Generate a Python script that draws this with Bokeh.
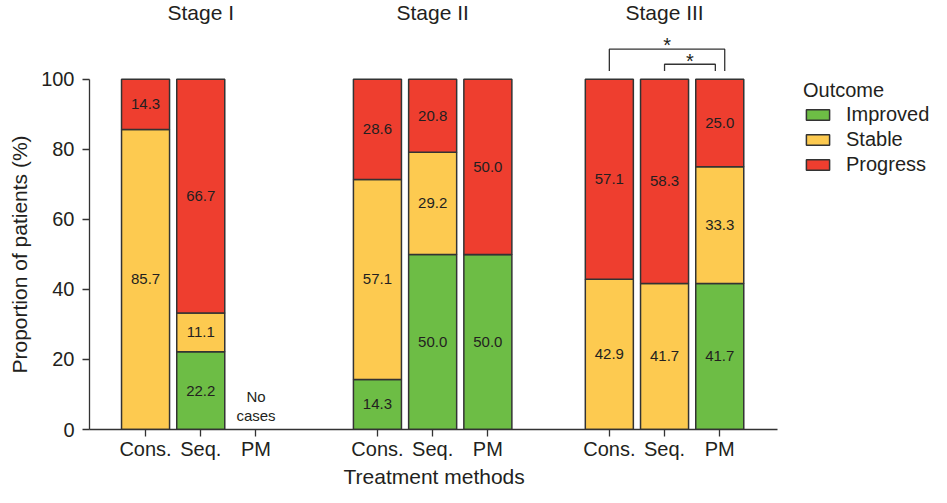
import math
from bokeh.plotting import figure
from bokeh.models import ColumnDataSource, FixedTicker, Legend, LegendItem, Range1d, Title
from bokeh.core.properties import value
from bokeh.embed import file_html
from bokeh.resources import INLINE

# ---------------- data ----------------
stages = ["Stage I", "Stage II", "Stage III"]
methods = ["Cons.", "Seq.", "PM"]
outcomes = ["Improved", "Stable", "Progress"]
nan = float("nan")
# order: Stage I (Cons., Seq., PM), Stage II (...), Stage III (...)
improved = [0.0, 22.2, nan, 14.3, 50.0, 50.0, 0.0, 0.0, 41.7]
stable = [85.7, 11.1, nan, 57.1, 29.2, 0.0, 42.9, 41.7, 33.3]
progress = [14.3, 66.7, nan, 28.6, 20.8, 50.0, 57.1, 58.3, 25.0]
no_cases_label = ["No", "cases"]
# significance brackets in Stage III: (from method, to method, mark)
sig_pairs = [("Cons.", "PM", "*"), ("Seq.", "PM", "*")]
y_ticks = [0, 20, 40, 60, 80, 100]
x_title = "Treatment methods"
y_title = "Proportion of patients (%)"
colors = ["#6dbd45", "#fdca50", "#ee3e2f"]

FONT = "Liberation Sans"
TXT = "#231f20"

# ---------------- layout constants ----------------
first = 1.015
stage_gap = 4.2
bar_w = 0.87

xs, method_idx = [], []
for s in range(len(stages)):
    for m in range(len(methods)):
        xs.append(first + stage_gap * s + m)
        method_idx.append(m)

src = ColumnDataSource(dict(x=xs, Improved=improved, Stable=stable, Progress=progress))

p = figure(width=931, height=487, x_range=Range1d(0, 15.25), y_range=Range1d(0, 122.5),
           output_backend="svg", toolbar_location=None,
           min_border_left=89, min_border_right=0, min_border_top=0, min_border_bottom=57)
p.outline_line_color = None
p.xgrid.visible = False
p.ygrid.visible = False
p.background_fill_color = "white"
p.border_fill_color = "white"

rs = p.vbar_stack(outcomes, x="x", width=bar_w, source=src, color=colors,
                  line_color="#333333", line_width=1.5)

# ---- value labels inside segments ----
lx, ly, lt = [], [], []
for i, x in enumerate(xs):
    base = 0.0
    for vals in (improved, stable, progress):
        v = vals[i]
        if math.isnan(v):
            break
        if v > 0:
            lx.append(x)
            ly.append(base + v / 2)
            lt.append(f"{v:.1f}")
        base += v
p.text(x=lx, y=ly, text=lt, text_align="center", text_baseline="middle",
       text_font=value(FONT), text_font_size="15px", text_color=TXT)

# ---- "No cases" for empty bar ----
for i, x in enumerate(xs):
    if math.isnan(improved[i]):
        p.text(x=[x, x], y=[9.4, 4.0], text=no_cases_label, text_align="center",
               text_baseline="middle", text_font=value(FONT), text_font_size="15px",
               text_color=TXT)

# ---- stage titles ----
p.text(x=[first + stage_gap * s + 1 for s in range(len(stages))], y=[119.0] * len(stages),
       text=stages, text_align="center", text_baseline="middle",
       text_font=value(FONT), text_font_size="21px", text_color=TXT)

# ---- significance brackets (Stage III) ----
s3 = len(stages) - 1
br_specs = [(108.6, 0.09), (104.3, -0.08)]
star_y = [109.8, 105.3]
for k, (a, b, mark) in enumerate(sig_pairs):
    xa = first + stage_gap * s3 + methods.index(a)
    xb = first + stage_gap * s3 + methods.index(b) + br_specs[k][1]
    top = br_specs[k][0]
    p.line(x=[xa, xa, xb, xb], y=[102.4, top, top, 102.4], line_color="#333333", line_width=1.3)
    p.text(x=[(xa + xb) / 2], y=[star_y[k]], text=[mark], text_align="center",
           text_baseline="alphabetic", text_font=value(FONT), text_font_size="20px",
           text_color=TXT)

# ---- axes ----
for ax in (p.xaxis[0], p.yaxis[0]):
    ax.axis_line_color = "#333333"
    ax.axis_line_width = 1.3
    ax.major_tick_line_color = "#333333"
    ax.major_tick_line_width = 1.3
    ax.major_tick_out = 7
    ax.major_tick_in = 0
    ax.minor_tick_line_color = None
    ax.major_label_text_font = FONT
    ax.major_label_text_font_size = "20px"
    ax.major_label_text_color = TXT

p.yaxis.ticker = FixedTicker(ticks=y_ticks)
p.yaxis.bounds = (0, 100)
p.yaxis.major_label_standoff = 8

p.xaxis.ticker = FixedTicker(ticks=xs)
p.xaxis.major_label_overrides = {x: methods[m] for x, m in zip(xs, method_idx)}
p.xaxis.bounds = (0, 12.46)
p.xaxis.major_label_standoff = 1

# axis titles placed as side titles, shifted to sit centred on the axis extents
p.add_layout(Title(text=x_title, align="left", offset=254, standoff=0,
                   text_font=FONT, text_font_size="21px", text_font_style="normal",
                   text_color=TXT), "below")
p.add_layout(Title(text=y_title, align="left", offset=56, standoff=12, vertical_align="top",
                   text_font=FONT, text_font_size="21px", text_font_style="normal",
                   text_color=TXT), "left")

# ---- legend ----
legend = Legend(items=[LegendItem(label=o, renderers=[r]) for o, r in zip(outcomes, rs)],
                location=(714, 253), title="Outcome",
                title_text_font=FONT, title_text_font_size="20px", title_text_color=TXT,
                title_text_font_style="normal", title_standoff=1,
                label_text_font=FONT, label_text_font_size="20px", label_text_color=TXT,
                glyph_width=29, glyph_height=13, label_standoff=14, spacing=2,
                padding=0, margin=0, border_line_color=None, background_fill_alpha=0)
p.add_layout(legend)

open("out.html", "w").write(file_html(p, INLINE))
